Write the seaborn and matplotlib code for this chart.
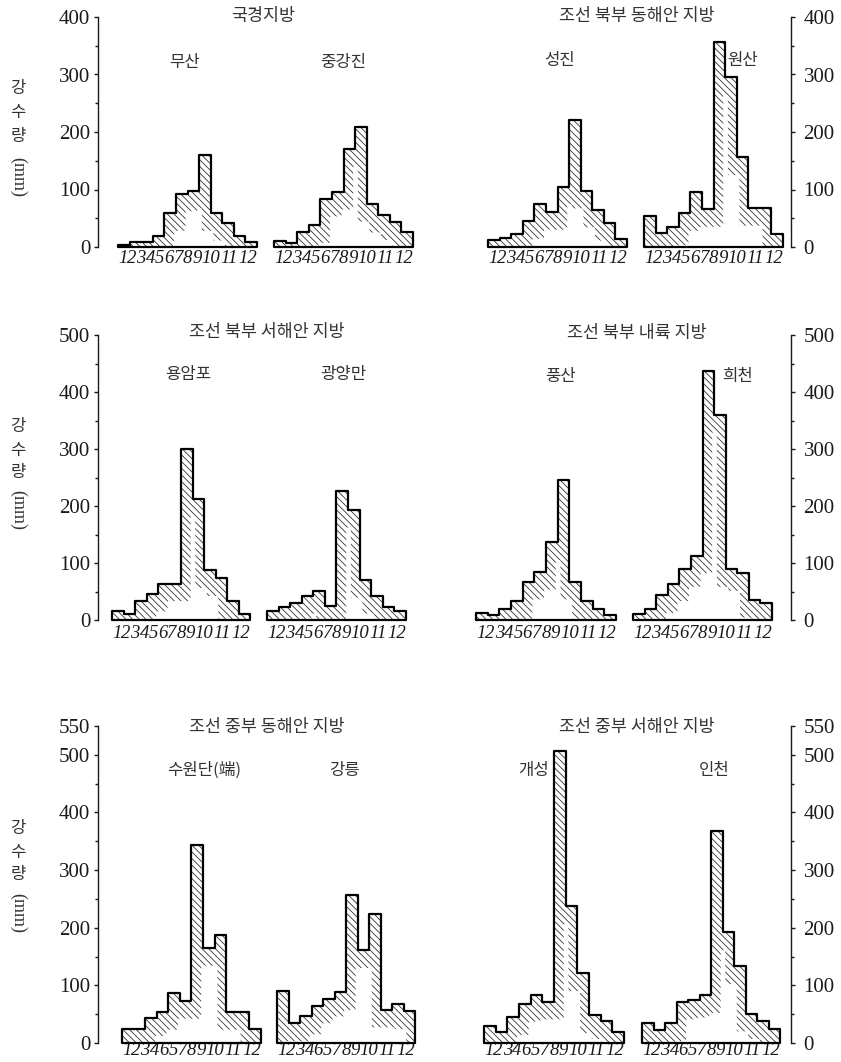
import numpy as np
import matplotlib
matplotlib.use("Agg")
import matplotlib.pyplot as plt
from matplotlib.ticker import MultipleLocator
from numpy.lib.stride_tricks import sliding_window_view
import seaborn as sns

# monthly precipitation (mm)
months = np.arange(1, 13)
musan = [4, 9, 9, 20, 59, 93, 98, 160, 59, 42, 20, 9]
junggangjin = [10, 7, 26, 38, 84, 96, 171, 208, 75, 56, 43, 26]
seongjin = [12, 16, 23, 45, 74, 61, 105, 221, 98, 65, 42, 14]
wonsan = [54, 25, 34, 59, 95, 66, 356, 295, 156, 68, 68, 23]
yongampo = [16, 11, 33, 46, 64, 64, 300, 213, 87, 73, 33, 11]
gwangyangman = [16, 22, 29, 42, 51, 25, 226, 193, 70, 42, 22, 16]
pungsan = [13, 8, 19, 33, 67, 84, 136, 246, 67, 33, 19, 8]
huicheon = [11, 19, 43, 64, 89, 113, 436, 360, 89, 82, 35, 29]
suwondan = [25, 25, 43, 54, 86, 73, 343, 165, 187, 54, 54, 25]
gangneung = [91, 34, 46, 65, 77, 88, 257, 161, 224, 58, 68, 55]
gaeseong = [29, 19, 45, 68, 83, 72, 506, 237, 121, 48, 38, 19]
incheon = [34, 22, 34, 72, 75, 83, 367, 192, 133, 51, 38, 25]

month_labels = [str(m) for m in months]
month_labels_row3 = ['1', '2', '3', '4', '6', '5', '7', '8', '9', '10', '11', '12']

row_ticks = [[0, 100, 200, 300, 400],
             [0, 100, 200, 300, 400, 500],
             [0, 100, 200, 300, 400, 500, 550]]
group_titles = [['국경지방', '조선 북부 동해안 지방'],
                ['조선 북부 서해안 지방', '조선 북부 내륙 지방'],
                ['조선 중부 동해안 지방', '조선 중부 서해안 지방']]
station_names = [['무산', '중강진', '성진', '원산'],
                 ['용암포', '광양만', '풍산', '희천'],
                 ['수원단(端)', '강릉', '개성', '인천']]
station_data = [[musan, junggangjin, seongjin, wonsan],
                [yongampo, gwangyangman, pungsan, huicheon],
                [suwondan, gangneung, gaeseong, incheon]]

# layout in pixels
W, H = 841, 1062
rows = [
    dict(base=247, top=17, hists=[(118, 257), (274, 413), (488, 627), (644, 783)],
         titles=[(263, 16), (637, 16)], names=[(185, 63), (343, 63), (560, 60), (743, 60)],
         ylab=[88, 113, 137, 177], pad=2.5, labels=month_labels),
    dict(base=620, top=335, hists=[(112, 250), (267, 406), (476, 616), (633, 772)],
         titles=[(267, 332), (637, 333)], names=[(188, 375), (343, 375), (560, 377), (737, 377)],
         ylab=[427, 450, 472, 510], pad=3.5, labels=month_labels),
    dict(base=1043, top=726, hists=[(122, 261), (277, 415), (484, 624), (642, 780)],
         titles=[(267, 727), (637, 727)], names=[(204, 770), (345, 770), (534, 770), (714, 770)],
         ylab=[828, 852, 875, 913], pad=-0.5, labels=month_labels_row3),
]

sns.set_theme(style="white")
plt.rcParams['font.family'] = ['Liberation Serif', 'Noto Sans CJK KR']
plt.rcParams['hatch.linewidth'] = 0.6
plt.rcParams['hatch.color'] = '#333333'

ink = '#1a1a1a'
kor = dict(family=['Noto Sans CJK KR'], color='#333333', ha='center', va='center')
edges = [m - 0.5 for m in range(1, 14)]


def fx(px):
    return px / W


def fy(py):
    return 1 - py / H


def inner_mask(vals):
    # shrink the step outline so hatching stays a band along the edges
    xs = np.linspace(0.5, 12.5, 1201)
    idx = np.clip((xs - 0.5).astype(int), 0, 11)
    h = np.asarray(vals, float)[idx]
    k = 80
    m = sliding_window_view(np.pad(h, k), 2 * k + 1).min(axis=1)
    return xs, np.clip(m - 30, 0, None)


def tick_positions(labels):
    # labels run together as one string of digits under the bars
    lens = np.array([len(s) for s in labels])
    step = 12 / lens.sum()
    cum = np.concatenate([[0], np.cumsum(lens)[:-1]])
    return 0.5 + (cum + lens / 2) * step


fig = plt.figure(figsize=(W / 100, H / 100), dpi=100)

for r, row in enumerate(rows):
    ymax = row_ticks[r][-1]
    rect = [fx(98), fy(row['base']), fx(791 - 98), (row['base'] - row['top']) / H]

    axl = fig.add_axes(rect, zorder=0)
    axl.patch.set_alpha(0)
    axl.set_xlim(0, 1)
    axl.set_ylim(0, ymax)
    axl.set_xticks([])
    for s in ['top', 'bottom', 'right']:
        axl.spines[s].set_visible(False)
    axl.spines['left'].set_color(ink)
    axl.spines['left'].set_linewidth(1.0)
    axl.set_yticks(row_ticks[r])
    axl.yaxis.set_minor_locator(MultipleLocator(50))
    axl.tick_params(axis='y', which='both', left=True, right=False, direction='out',
                    color=ink, width=1.0, labelsize=15, labelcolor=ink, pad=2.5)
    axl.tick_params(axis='y', which='major', length=3)
    axl.tick_params(axis='y', which='minor', length=2.5)

    axr = axl.twinx()
    axr.set_ylim(0, ymax)
    for s in ['top', 'bottom', 'left']:
        axr.spines[s].set_visible(False)
    axr.spines['right'].set_color(ink)
    axr.spines['right'].set_linewidth(1.0)
    axr.set_yticks(row_ticks[r])
    axr.yaxis.set_minor_locator(MultipleLocator(50))
    axr.tick_params(axis='y', which='both', right=True, left=False, direction='out',
                    color=ink, width=1.0, labelsize=15, labelcolor=ink, pad=6)
    axr.tick_params(axis='y', which='major', length=3)
    axr.tick_params(axis='y', which='minor', length=2.5)

    for j, (x0, x1) in enumerate(row['hists']):
        vals = station_data[r][j]
        ax = fig.add_axes([fx(x0), fy(row['base']), fx(x1 - x0), (row['base'] - row['top']) / H],
                          zorder=2)
        ax.patch.set_alpha(0)
        sns.histplot(x=months, weights=vals, bins=edges, element='step', fill=True,
                     color='black', facecolor='white', edgecolor='#333333', linewidth=0,
                     hatch='\\' * 5, zorder=1, ax=ax)
        xs, inner = inner_mask(vals)
        ax.fill_between(xs, 0, inner, color='white', linewidth=0, zorder=2)
        sns.histplot(x=months, weights=vals, bins=edges, element='step', fill=True,
                     color='black', facecolor='none', edgecolor='black', linewidth=1.6,
                     zorder=3, clip_on=False, ax=ax)
        ax.set_xlim(0.5, 12.5)
        ax.set_ylim(0, ymax)
        ax.set_xlabel('')
        ax.set_ylabel('')
        for s in ax.spines.values():
            s.set_visible(False)
        ax.set_yticks([])
        ax.set_xticks(tick_positions(row['labels']), row['labels'],
                      fontstyle='italic', fontsize=13.5, color=ink)
        ax.tick_params(axis='x', length=0, pad=row['pad'], bottom=True)

        nx, ny = row['names'][j]
        fig.text(fx(nx), fy(ny), station_names[r][j], fontsize=12, **kor)

    for k, (tx, ty) in enumerate(row['titles']):
        fig.text(fx(tx), fy(ty), group_titles[r][k], fontsize=12.5, **kor)

    for ch, yy in zip(['강', '수', '량'], row['ylab'][:3]):
        fig.text(fx(18), fy(yy), ch, fontsize=12, **kor)
    fig.text(fx(18), fy(row['ylab'][3]), '(mm)', fontsize=13, rotation=270,
             ha='center', va='center', color='#333333', family=['Liberation Serif'])

fig.savefig('out.png', dpi=100, facecolor='white')
